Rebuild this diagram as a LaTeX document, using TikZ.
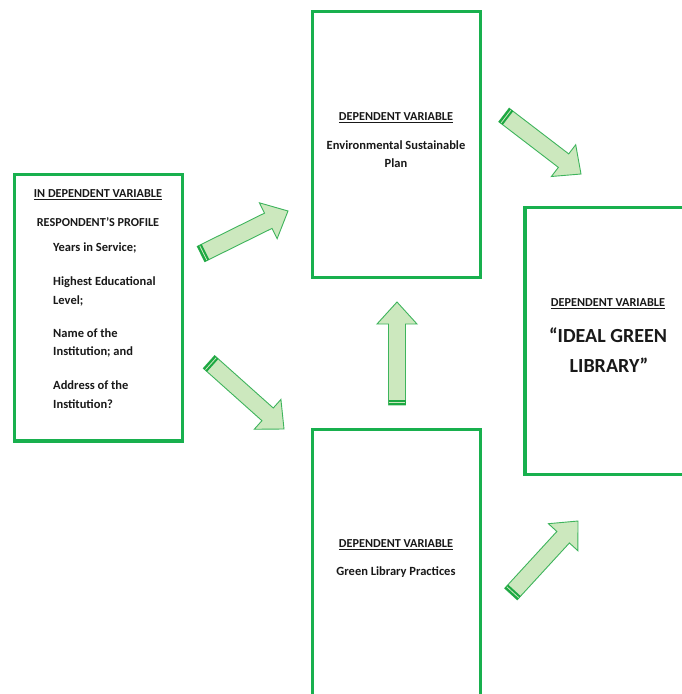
\documentclass[tikz,border=0pt]{standalone}
\usepackage{fontspec}
\setmainfont{Carlito}
\usetikzlibrary{calc}
\definecolor{boxgreen}{RGB}{24,176,78}
\definecolor{arrowfill}{RGB}{204,232,190}
\definecolor{arrowline}{RGB}{62,180,92}
\definecolor{tailgreen}{RGB}{28,168,66}
\definecolor{txt}{RGB}{25,25,25}
\tikzset{
  boxframe/.style={draw=boxgreen,line width=3.4pt,fill=white},
  lbl/.style={font=\bfseries\fontsize{12.5}{15}\selectfont,text=txt,inner sep=0pt},
  head/.style={font=\bfseries\fontsize{12.2}{14}\selectfont,text=txt,inner sep=0pt},
  big/.style={font=\bfseries\fontsize{20}{24}\selectfont,text=txt,inner sep=0pt},
  arrowbody/.style={fill=arrowfill,draw=arrowline,line width=0.9pt,line join=miter},
}
\newcommand\blockarrow[2]{%
  \coordinate (#1h) at ($(#2)!22pt!(#1)$);
  \coordinate (#1t) at ($(#1)!5pt!(#2)$);
  \coordinate (#1m) at ($(#1)!2.5pt!(#2)$);
  \path[arrowbody] ($(#1)!8.5pt!90:(#2)$) -- ($(#1h)!8.5pt!-90:(#1)$) --
    ($(#1h)!20pt!-90:(#1)$) -- (#2) -- ($(#1h)!20pt!90:(#1)$) --
    ($(#1h)!8.5pt!90:(#1)$) -- ($(#1)!8.5pt!-90:(#2)$) -- cycle;
  \fill[tailgreen] ($(#1)!8.5pt!90:(#2)$) -- ($(#1)!8.5pt!-90:(#2)$) --
    ($(#1t)!8.5pt!-90:(#2)$) -- ($(#1t)!8.5pt!90:(#2)$) -- cycle;
  \draw[arrowfill,line width=0.8pt] ($(#1m)!8pt!90:(#2)$) -- ($(#1m)!8pt!-90:(#2)$);
}
\begin{document}
\begin{tikzpicture}[x=1pt,y=-1pt]
\clip (0,0) rectangle (682,694);
\fill[white] (0,0) rectangle (682,694);

% boxes
\draw[boxframe] (14.5,174.5) rectangle (182.5,441);
\draw[boxframe] (312.5,11.5) rectangle (480.5,277.5);
\draw[boxframe] (312.5,429.5) rectangle (480.5,710);
\draw[boxframe] (525,207.5) rectangle (700,474.5);

% left box texts
\node[head] (ivh) at (98,195) {\underline{IN DEPENDENT VARIABLE}};
\node[head] (rp) at (98,222) {RESPONDENT'S PROFILE};
\node[lbl,anchor=west] (y1) at (53,248) {Years in Service;};
\node[lbl,anchor=west] (h1) at (53,282) {Highest Educational};
\node[lbl,anchor=west] (h2) at (53,301) {Level;};
\node[lbl,anchor=west] (n1) at (53,333) {Name of the};
\node[lbl,anchor=west] (n2) at (53,352) {Institution; and};
\node[lbl,anchor=west] (a1) at (53,385) {Address of the};
\node[lbl,anchor=west] (a2) at (53,404) {Institution?};

% top middle
\node[head] (esh) at (396,118) {\underline{DEPENDENT VARIABLE}};
\node[lbl] (es1) at (396,145) {Environmental Sustainable};
\node[lbl] (es2) at (396,163) {Plan};

% bottom middle
\node[head] (glh) at (396,545) {\underline{DEPENDENT VARIABLE}};
\node[lbl] (gl1) at (396,572) {Green Library Practices};

% right
\node[head] (igh) at (608,304) {\underline{DEPENDENT VARIABLE}};
\node[big] (ig1) at (608,335) {“IDEAL GREEN};
\node[big] (ig2) at (609,365) {LIBRARY”};

% arrows
\coordinate (a1s) at (201,254); \coordinate (a1e) at (288,211);
\coordinate (a2s) at (209,362); \coordinate (a2e) at (284,429);
\coordinate (a3s) at (397,405); \coordinate (a3e) at (397,302);
\coordinate (a4s) at (504,115); \coordinate (a4e) at (581,174);
\coordinate (a5s) at (511,594); \coordinate (a5e) at (578,521);
\blockarrow{a1s}{a1e}
\blockarrow{a2s}{a2e}
\blockarrow{a3s}{a3e}
\blockarrow{a4s}{a4e}
\blockarrow{a5s}{a5e}
\end{tikzpicture}
\end{document}
